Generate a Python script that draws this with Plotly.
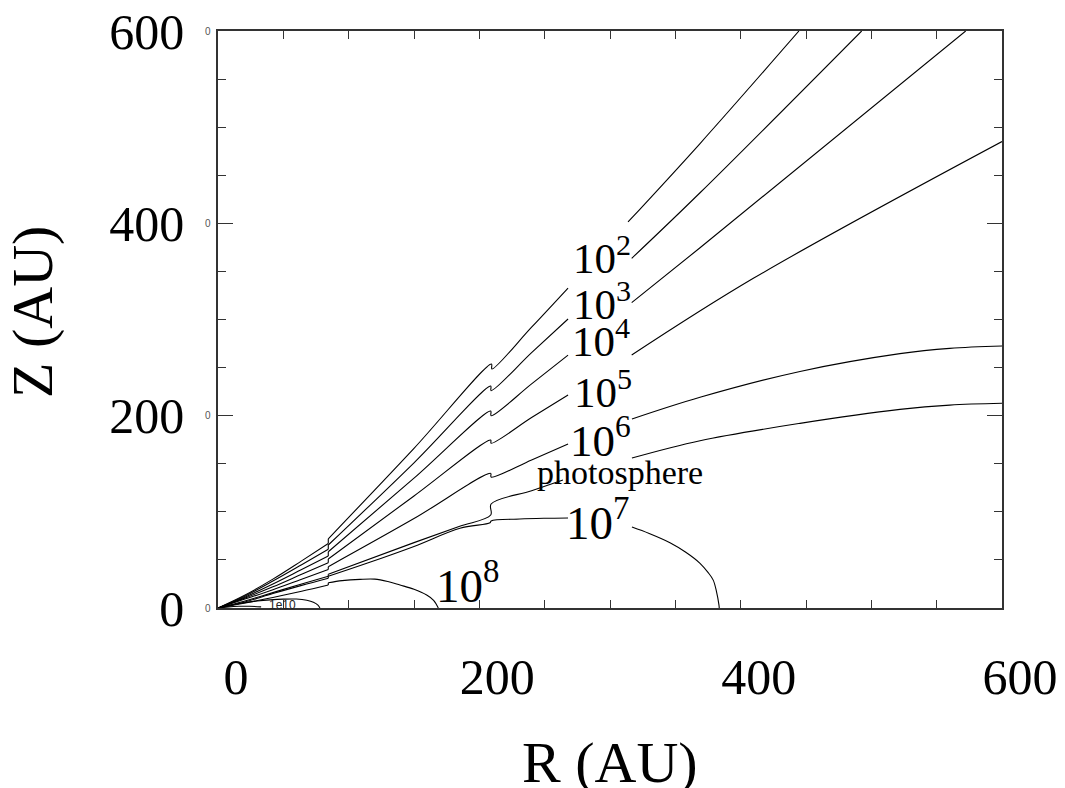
import plotly.graph_objects as go

# ---- data (R, Z in AU); None marks gaps where contour labels sit ----
r_1e2 = [0, 20, 42, 64, 84.4, 84.4, 150, 209.3, 209.6, 240, 267.9, None, 313.8, 368.9, 444.6]
z_1e2 = [0, 13, 30, 49, 67, 72, 166, 253.7, 248.5, 292, 332.7, None, 401.4, 483, 600]

r_1e3 = [0, 20, 42, 64, 84.4, 84.4, 150, 208.7, 209.0, 240, 267.9, None, 316.6, 368.9, 492.6]
z_1e3 = [0, 12, 28, 45, 61, 65.5, 151, 230.8, 226, 265.5, 300.5, None, 363.6, 431.8, 600]

r_1e4 = [0, 20, 42, 64, 84.4, 84.4, 150, 208.7, 209.0, 240, 267.9, None, 316.6, 368.9, 572.2]
z_1e4 = [0, 11, 25, 40, 54, 58.5, 135, 204.8, 200, 233, 263, None, 317.5, 374.6, 600]

r_1e5 = [0, 20, 42, 64, 84.4, 84.4, 150, 208.7, 209.0, 240, 267.9, None, 316.6, 409.7, 600]
z_1e5 = [0, 10, 22, 35, 47, 51, 116.5, 174.7, 171.3, 198, 221.5, None, 263, 342.8, 485]

r_1e6 = [0, 20, 42, 64, 84.4, 84.4, 150, 208.7, 209.0, 240, 267.9, None, 316.8, 368.9, 445.4, 521.9, 560, 600]
z_1e6 = [0, 9, 19, 30, 40, 43, 93, 140, 136.2, 154, 170.5, None, 196.5, 219.1, 246, 264.5, 270, 272.4]

r_phot = [0, 20, 42, 64, 84.4, 84.4, 150, 185, 208.7, 209.0, 240, 264, None, 316.8, 368.9, 445.4, 521.9, 560, 600]
z_phot = [0, 7, 16, 25, 33, 35, 68, 85, 96.7, 108.1, 122, 133.1, None, 156, 174, 192, 206.5, 211, 212.9]

r_1e7 = [0, 20, 42, 64, 84.4, 84.4, 115, 150, 185.2, 208.2, 209.0, 231, 250, 267.9, None, 316.8, 330, 345.9, 358, 368.9, 375, 379, 381.5, 383.4, 383.6]
z_1e7 = [0, 6, 15, 23.5, 31, 33, 47, 64, 82.9, 88.7, 90.5, 92.5, 93.3, 93.6, None, 84.2, 77.5, 67.9, 58, 46.5, 37, 29, 17, 3, 0]

r_1e8 = [0, 20, 42, 64, 84.4, 84.4, 95, 108.7, 120, 130, 139.3, 150, 159.7, 165, 168.6]
z_1e8 = [0, 5, 11, 17.5, 24, 26.3, 28.5, 29.8, 30, 27.5, 23.9, 19.5, 13.5, 8, 0]

r_1e9 = [0, 10, 20, 30, 40, 50, 60, 68, 73, 76.5, 78]
z_1e9 = [0, 3, 5.5, 7.3, 8.5, 9.2, 9.3, 8, 6, 3, 0]

r_1e10 = [0, 8, 16, 24, 33]
z_1e10 = [0, 1.2, 1.8, 1.8, 1.2]

# contour labels: text, R, Z, font size
label_text = ["10<sup>2</sup>", "10<sup>3</sup>", "10<sup>4</sup>", "10<sup>5</sup>",
              "10<sup>6</sup>", "photosphere", "10<sup>7</sup>", "10<sup>8</sup>", "1e10"]
label_r = [293.9, 293.9, 293.1, 294.6, 293.1, 307.6, 290.8, 190.6, 49]
label_z = [367, 319.2, 280.8, 227.7, 177.8, 141.4, 92.5, 26.5, 3.6]
label_size = [43, 43, 43, 43, 45, 34, 47, 47, 12]

tick_vals = [0, 200, 400, 600]
tick_text = ["0", "200", "400", "600"]

SERIF = "Liberation Serif, Times New Roman, serif"
AX = "#333333"


def pieces(rr, zz):
    """Split a contour into smooth runs (at label gaps and at vertical steps)."""
    runs, steps = [], []
    cur = []
    for r, z in zip(rr, zz):
        if r is None:
            if len(cur) > 1:
                runs.append(cur)
            cur = []
            continue
        if cur and r == cur[-1][0]:
            steps.append([cur[-1], (r, z)])
            if len(cur) > 1:
                runs.append(cur)
            cur = [(r, z)]
            continue
        cur.append((r, z))
    if len(cur) > 1:
        runs.append(cur)
    return runs, steps


fig = go.Figure()
curves = [(r_1e2, z_1e2), (r_1e3, z_1e3), (r_1e4, z_1e4), (r_1e5, z_1e5), (r_1e6, z_1e6),
          (r_phot, z_phot), (r_1e7, z_1e7), (r_1e8, z_1e8), (r_1e9, z_1e9), (r_1e10, z_1e10)]
for rr, zz in curves:
    runs, steps = pieces(rr, zz)
    for run in runs:
        fig.add_trace(go.Scatter(x=[p[0] for p in run], y=[p[1] for p in run], mode="lines",
                                 line=dict(color="black", width=1.1, shape="spline", smoothing=1.0),
                                 hoverinfo="skip", showlegend=False))
    for st in steps:
        fig.add_trace(go.Scatter(x=[p[0] for p in st], y=[p[1] for p in st], mode="lines",
                                 line=dict(color="black", width=1.1),
                                 hoverinfo="skip", showlegend=False))

annotations = []
for t, r, z, s in zip(label_text, label_r, label_z, label_size):
    fam = "Liberation Sans, Arial, sans-serif" if t == "1e10" else SERIF
    annotations.append(dict(x=r, y=z, xref="x", yref="y", text=t, showarrow=False,
                            font=dict(family=fam, size=s, color="black" if t != "1e10" else "#222"),
                            xanchor="center", yanchor="middle"))
# tiny secondary tick marks "0" left of the y axis
for v in tick_vals:
    annotations.append(dict(x=0, y=v, xref="x", yref="y", text="0", showarrow=False,
                            xshift=-10, font=dict(family="Liberation Sans, Arial, sans-serif", size=10, color="#555"),
                            xanchor="center", yanchor="middle"))
# axis titles
annotations.append(dict(x=0.5, y=-0.268, xref="paper", yref="paper", text="R (AU)", showarrow=False,
                        font=dict(family=SERIF, size=58, color="black"), xanchor="center", yanchor="middle"))
annotations.append(dict(x=-0.236, y=0.513, xref="paper", yref="paper", text="Z (AU)", showarrow=False,
                        textangle=-90, font=dict(family=SERIF, size=58, color="black"),
                        xanchor="center", yanchor="middle"))

fig.update_layout(
    width=1065, height=788,
    margin=dict(l=218, r=63, t=31, b=180, autoexpand=False),
    paper_bgcolor="white", plot_bgcolor="white",
    annotations=annotations,
    xaxis=dict(range=[0, 600], showgrid=False, zeroline=False, showline=True, linecolor=AX, linewidth=1.5,
               mirror="ticks", ticks="inside", tickvals=tick_vals, ticktext=tick_text, ticklen=8,
               tickcolor=AX, tickwidth=1,
               minor=dict(dtick=50, ticks="inside", ticklen=8, tickcolor=AX, tickwidth=1, showgrid=False),
               tickfont=dict(family=SERIF, size=50, color="black"),
               ticklabelshift=18, ticklabelstandoff=24),
    yaxis=dict(range=[0, 600], showgrid=False, zeroline=False, showline=True, linecolor=AX, linewidth=1.5,
               mirror="ticks", ticks="inside", tickvals=tick_vals, ticktext=tick_text, ticklen=15,
               tickcolor=AX, tickwidth=1,
               minor=dict(dtick=50, ticks="inside", ticklen=8, tickcolor=AX, tickwidth=1, showgrid=False),
               tickfont=dict(family=SERIF, size=50, color="black"),
               ticklabelstandoff=22),
)

fig.write_html("out.html")
